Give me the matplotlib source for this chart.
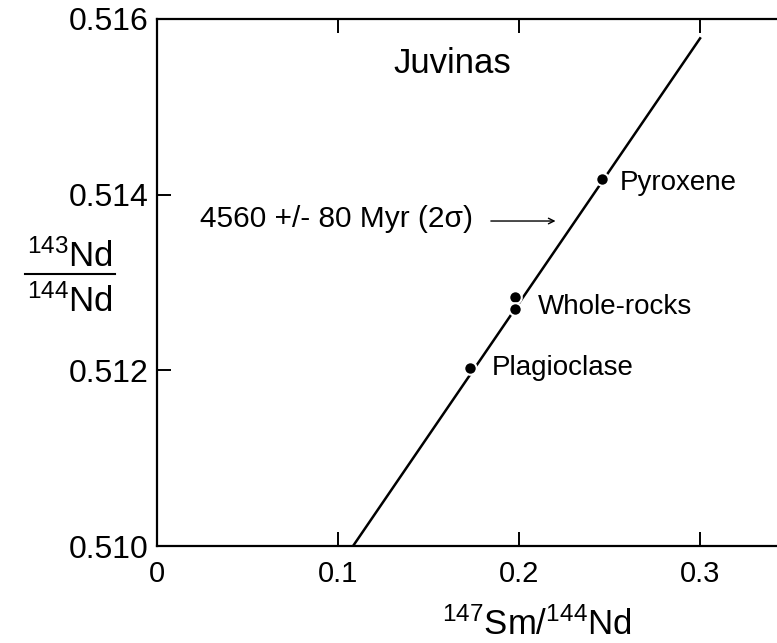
import matplotlib
matplotlib.use("Agg")
import matplotlib.pyplot as plt
from matplotlib.lines import Line2D

plt.rcParams['font.family'] = ['Liberation Sans', 'DejaVu Sans']
plt.rcParams['mathtext.fontset'] = 'custom'
plt.rcParams['mathtext.rm'] = 'Liberation Sans'
plt.rcParams['mathtext.default'] = 'regular'

# measured samples (147Sm/144Nd, 143Nd/144Nd)
sample_names = ["Pyroxene", "Whole-rocks", "Whole-rocks", "Plagioclase"]
sm_nd = [0.2459, 0.1978, 0.1978, 0.1729]
nd_nd = [0.51418, 0.51284, 0.51270, 0.51203]

# isochron end points
iso_x = [0.1083, 0.300]
iso_y = [0.5100, 0.51578]

x_ticks = [0, 0.1, 0.2, 0.3]
x_tick_labels = ["0", "0.1", "0.2", "0.3"]
y_ticks = [0.510, 0.512, 0.514, 0.516]
y_tick_labels = ["0.510", "0.512", "0.514", "0.516"]

fig = plt.figure(figsize=(7.77, 6.43), dpi=100)
ax = fig.add_axes([157 / 777, 97 / 643, 620 / 777, 527 / 643])

ax.plot(iso_x, iso_y, color="black", lw=1.8, zorder=2)
ax.plot(sm_nd, nd_nd, "o", color="black", ms=9, mec="white", mew=1.5, zorder=3)

ax.set_xlim(0, 0.3425)
ax.set_ylim(0.510, 0.516)
ax.set_xticks(x_ticks)
ax.set_xticklabels(x_tick_labels, fontsize=21)
ax.set_yticks(y_ticks)
ax.set_yticklabels(y_tick_labels, fontsize=23)
ax.tick_params(axis="x", direction="in", length=10, width=1.4, top=True, pad=10)
ax.tick_params(axis="y", direction="in", length=10, width=1.4, pad=6)
ax.spines["right"].set_visible(False)
for s in ["left", "bottom", "top"]:
    ax.spines[s].set_linewidth(1.6)

# labels
ax.text(0.1304, 0.51549, "Juvinas", fontsize=25, va="center", ha="left")
ax.text(0.2558, 0.51413, "Pyroxene", fontsize=20, va="center", ha="left")
ax.text(0.2105, 0.51272, "Whole-rocks", fontsize=20, va="center", ha="left")
ax.text(0.1851, 0.51203, "Plagioclase", fontsize=20, va="center", ha="left")
ax.text(0.0238, 0.51372, "4560 +/- 80 Myr (2\u03c3)", fontsize=21.5, va="center", ha="left")
ax.annotate("", xy=(0.2217, 0.5137), xytext=(0.1829, 0.5137),
            arrowprops=dict(arrowstyle="->", color="black", lw=1.0))

# axis labels
fig.text(537 / 777, 1 - 635 / 643, "$^{147}$Sm/$^{144}$Nd", fontsize=25,
         ha="center", va="baseline")
fig.text(70 / 777, 1 - 267 / 643, "$^{143}$Nd", fontsize=25, ha="center", va="baseline")
fig.text(70 / 777, 1 - 312 / 643, "$^{144}$Nd", fontsize=25, ha="center", va="baseline")
fig.add_artist(Line2D([25 / 777, 115 / 777], [1 - 274 / 643, 1 - 274 / 643],
                      color="black", lw=1.5, transform=fig.transFigure))

fig.savefig("out.png", dpi=100)
